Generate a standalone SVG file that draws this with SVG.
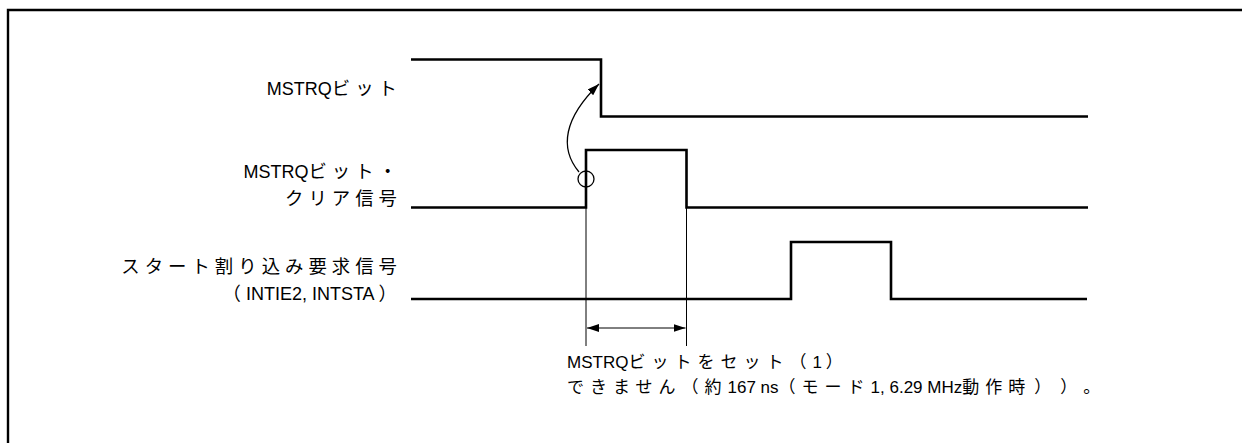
<svg xmlns="http://www.w3.org/2000/svg" width="1242" height="443" viewBox="0 0 1242 443">
<style>
.frame{fill:none;stroke:#000;stroke-width:2.4}
.sig{fill:none;stroke:#000;stroke-width:2.6;stroke-linejoin:miter}
.thin{fill:none;stroke:#000;stroke-width:1}
.curve{fill:none;stroke:#000;stroke-width:1.3}
text{font-family:"Liberation Sans","Noto Sans CJK JP",sans-serif;font-size:18px;fill:#000;text-spacing-trim:space-all}
.j{font-family:"Noto Sans CJK JP",sans-serif;font-size:18.4px;letter-spacing:5px}
.jb{font-family:"Noto Sans CJK JP",sans-serif;font-size:17px;letter-spacing:6px}
.nb{font-size:17px}
</style>
<defs>
<marker id="ah" viewBox="0 0 12 8" refX="12" refY="4" markerWidth="12" markerHeight="8" markerUnits="userSpaceOnUse" orient="auto-start-reverse">
<path d="M0,0 L12,4 L0,8 Z" fill="#000"/>
</marker>
</defs>
<path class="frame" d="M8,443 V10 H1242"/>
<g id="sig-mstrq">
<path class="sig" d="M411,59.5 H601 V116.5 H1088"/>
<text x="402" y="95" text-anchor="end">MSTRQ<tspan class="j">ビット</tspan></text>
</g>
<g id="sig-clear">
<path class="sig" d="M411,207.5 H586 V150 H686.5 V207.5 H1088"/>
<text text-anchor="end"><tspan x="402" y="178">MSTRQ<tspan class="j">ビット・</tspan></tspan><tspan x="402" y="205" class="j">クリア信号</tspan></text>
</g>
<g id="sig-start">
<path class="sig" d="M411,299 H791 V242 H891 V299 H1087"/>
<text text-anchor="end"><tspan x="402" y="273" class="j">スタート割り込み要求信号</tspan><tspan x="402" y="300"><tspan class="j">（</tspan>INTIE2, INTSTA<tspan class="j" dx="4">）</tspan></tspan></text>
</g>
<g id="connectors">
<circle class="curve" cx="586" cy="179" r="8"/>
<path class="curve" d="M579,172 C559,148 564,118 599,84" marker-end="url(#ah)"/>
<path class="thin" d="M586,208 V346 M686.5,208 V346"/>
<path class="thin" d="M587,328 H685.5" marker-start="url(#ah)" marker-end="url(#ah)"/>
</g>
<g id="note">
<text class="nb"><tspan x="567" y="368">MSTRQ<tspan class="jb">ビットをセット（</tspan>1<tspan class="jb" dx="4">）</tspan></tspan><tspan x="567" y="393"><tspan class="jb">できません（約</tspan>167 ns<tspan class="jb">（モード</tspan>1, 6.29 MHz<tspan class="jb">動作時</tspan><tspan class="jb" dx="3">）</tspan><tspan class="jb" dx="3">）。</tspan></tspan></text>
</g>
</svg>
